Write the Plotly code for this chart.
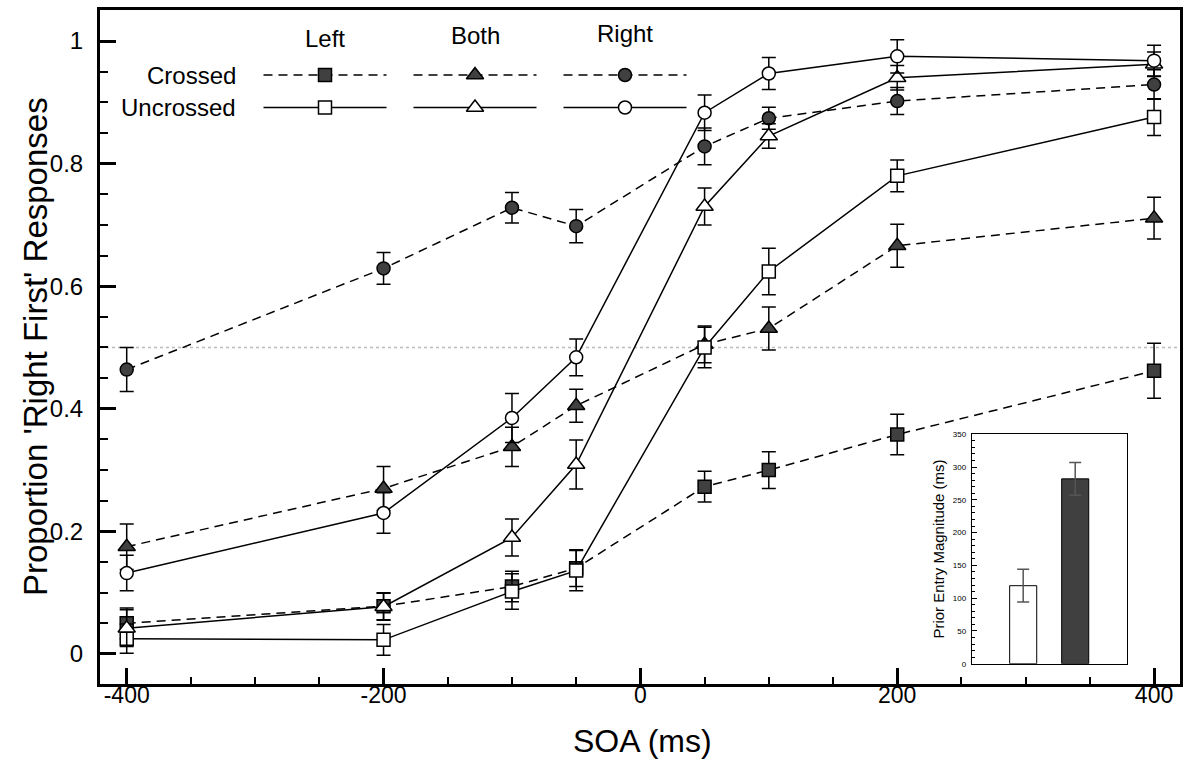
import plotly.graph_objects as go

# ---------------- data ----------------
soa = [-400, -200, -100, -50, 50, 100, 200, 400]

crossed_left = [0.050, 0.078, 0.110, 0.140, 0.273, 0.300, 0.358, 0.462]
crossed_left_err = [0.025, 0.022, 0.025, 0.030, 0.025, 0.030, 0.033, 0.045]
crossed_both = [0.175, 0.270, 0.338, 0.405, 0.505, 0.531, 0.666, 0.711]
crossed_both_err = [0.037, 0.036, 0.032, 0.027, 0.030, 0.035, 0.035, 0.034]
crossed_right = [0.464, 0.629, 0.728, 0.698, 0.828, 0.874, 0.902, 0.929]
crossed_right_err = [0.036, 0.026, 0.025, 0.027, 0.030, 0.018, 0.022, 0.024]

uncrossed_left = [0.025, 0.023, 0.102, 0.136, 0.500, 0.624, 0.780, 0.876]
uncrossed_left_err = [0.024, 0.025, 0.029, 0.033, 0.033, 0.038, 0.026, 0.030]
uncrossed_both = [0.042, 0.077, 0.190, 0.309, 0.730, 0.845, 0.940, 0.962]
uncrossed_both_err = [0.030, 0.022, 0.030, 0.040, 0.030, 0.020, 0.020, 0.020]
uncrossed_right = [0.132, 0.230, 0.385, 0.484, 0.883, 0.947, 0.975, 0.968]
uncrossed_right_err = [0.029, 0.033, 0.040, 0.030, 0.029, 0.026, 0.027, 0.025]

inset_groups = ["Uncrossed", "Crossed"]
inset_values = [119, 282]
inset_err = [25, 25]

x_ticks = [-400, -200, 0, 200, 400]
y_ticks = [0, 0.2, 0.4, 0.6, 0.8, 1]
y_tick_labels = ["0", "0.2", "0.4", "0.6", "0.8", "1"]
inset_ticks = [0, 50, 100, 150, 200, 250, 300, 350]

legend_cols = ["Left", "Both", "Right"]
legend_rows = ["Crossed", "Uncrossed"]

x_title = "SOA (ms)"
y_title = "Proportion 'Right First' Responses"
inset_title = "Prior Entry Magnitude (ms)"

# ---------------- style ----------------
FONT = "Liberation Sans, Arial, Helvetica, sans-serif"
DARK = "#404040"
DASH = "9px,6px"
MSIZE = 13

W, H = 1192, 769
L, R, T, B = 100, 12, 10, 85
PW, PH = W - L - R, H - T - B


def px_x(px):
    return (px - L) / PW


def px_y(py):
    return (H - B - py) / PH


fig = go.Figure()

# reference line at 0.5
fig.add_shape(type="line", xref="paper", yref="y", x0=0, x1=1, y0=0.5, y1=0.5,
              line=dict(color="#bbbbbb", width=1.5, dash="dot"), layer="below")

series = [
    (crossed_left, crossed_left_err, "square", DARK, DASH),
    (crossed_both, crossed_both_err, "triangle-up", DARK, DASH),
    (crossed_right, crossed_right_err, "circle", DARK, DASH),
    (uncrossed_left, uncrossed_left_err, "square", "white", "solid"),
    (uncrossed_both, uncrossed_both_err, "triangle-up", "white", "solid"),
    (uncrossed_right, uncrossed_right_err, "circle", "white", "solid"),
]

for vals, errs, sym, fill, dash in series:
    size = MSIZE + 2 if sym == "triangle-up" else MSIZE
    fig.add_trace(go.Scatter(
        x=soa, y=vals, mode="lines+markers",
        line=dict(color="black", width=1.5, dash=dash),
        marker=dict(symbol=sym, size=size, color=fill, line=dict(color="black", width=1.5)),
        error_y=dict(type="data", array=errs, visible=True, color="black", thickness=1.5, width=7),
        showlegend=False, xaxis="x", yaxis="y", cliponaxis=False,
    ))

# ---------------- legend (drawn on an overlay axis in plot fractions) ----------------
col_px = [325, 475, 625]
row_py = [75, 107.5]
head_py = [38, 35, 33]
half = 61.5
syms = ["square", "triangle-up", "circle"]
fills = [DARK, "white"]
dashes = [DASH, "solid"]

for ri, rname in enumerate(legend_rows):
    for ci, cname in enumerate(legend_cols):
        xc = px_x(col_px[ci])
        hw = half / PW
        yc = px_y(row_py[ri])
        fig.add_trace(go.Scatter(
            x=[xc - hw, xc + hw], y=[yc, yc], mode="lines",
            line=dict(color="black", width=1.5, dash=dashes[ri]),
            showlegend=False, xaxis="x3", yaxis="y3", hoverinfo="skip"))
        size = MSIZE + 2 if syms[ci] == "triangle-up" else MSIZE
        fig.add_trace(go.Scatter(
            x=[xc], y=[yc], mode="markers",
            marker=dict(symbol=syms[ci], size=size, color=fills[ri], line=dict(color="black", width=1.5)),
            showlegend=False, xaxis="x3", yaxis="y3", hoverinfo="skip"))
    fig.add_annotation(x=px_x(238), y=px_y(row_py[ri]), xref="x3", yref="y3",
                       text=rname, showarrow=False, xanchor="right", yanchor="middle",
                       font=dict(family=FONT, size=24, color="black"))

for ci, cname in enumerate(legend_cols):
    fig.add_annotation(x=px_x(col_px[ci]), y=px_y(head_py[ci]), xref="x3", yref="y3",
                       text=cname, showarrow=False, xanchor="center", yanchor="middle",
                       font=dict(family=FONT, size=24, color="black"))

# axis titles
fig.add_annotation(x=px_x(35), y=0.5, xref="paper", yref="paper", text=y_title,
                   textangle=-90, showarrow=False, xanchor="center", yanchor="middle",
                   font=dict(family=FONT, size=33, color="black"))
fig.add_annotation(x=px_x(642), y=px_y(741), xref="paper", yref="paper", text=x_title,
                   showarrow=False, xanchor="center", yanchor="middle",
                   font=dict(family=FONT, size=32, color="black"))

# ---------------- inset bar chart ----------------
fig.add_trace(go.Bar(
    x=[0, 1], y=inset_values, width=0.52,
    marker=dict(color=["white", DARK], line=dict(color="black", width=1)),
    error_y=dict(type="data", array=inset_err, visible=True, color="#555555", thickness=1.5, width=6),
    showlegend=False, xaxis="x2", yaxis="y2", hovertext=inset_groups,
))

ix0, ix1 = px_x(971.7), px_x(1126.7)
iy0, iy1 = px_y(663.7), px_y(434.3)

fig.update_layout(
    width=W, height=H,
    margin=dict(l=L, r=R, t=T, b=B, autoexpand=False),
    paper_bgcolor="white", plot_bgcolor="white",
    font=dict(family=FONT, color="black"),
    xaxis=dict(
        domain=[0, 1], range=[-420.8, 420.2],
        tickmode="array", tickvals=x_ticks, ticktext=[str(v) for v in x_ticks],
        ticks="inside", ticklen=16, tickwidth=3, tickcolor="black",
        minor=dict(dtick=50, tick0=-400, ticks="inside", ticklen=7, tickwidth=2, tickcolor="black"),
        showline=True, linewidth=3, linecolor="black", mirror=True,
        showgrid=False, zeroline=False,
        tickfont=dict(size=23), ticklabelstandoff=-12,
    ),
    yaxis=dict(
        domain=[0, 1], range=[-0.0490, 1.0506],
        tickmode="array", tickvals=y_ticks, ticktext=y_tick_labels,
        ticks="inside", ticklen=16, tickwidth=3, tickcolor="black",
        minor=dict(dtick=0.05, tick0=0, ticks="inside", ticklen=8, tickwidth=2, tickcolor="black"),
        showline=True, linewidth=3, linecolor="black", mirror=True,
        showgrid=False, zeroline=False,
        tickfont=dict(size=24), ticklabelstandoff=9,
    ),
    xaxis2=dict(
        domain=[ix0, ix1], anchor="y2", range=[-0.99, 1.99],
        showticklabels=False, ticks="", showgrid=False, zeroline=False,
        showline=True, linewidth=1, linecolor="black", mirror=True,
    ),
    yaxis2=dict(
        domain=[iy0, iy1], anchor="x2", range=[0, 350],
        tickmode="array", tickvals=inset_ticks,
        ticks="inside", ticklen=5, tickwidth=1, tickcolor="black",
        minor=dict(dtick=10, tick0=0, ticks="inside", ticklen=3, tickwidth=1, tickcolor="black"),
        showline=True, linewidth=1, linecolor="black", mirror=True,
        showgrid=False, zeroline=False,
        tickfont=dict(size=8, color="black"), ticklabelstandoff=3,
        title=dict(text=inset_title, font=dict(size=15), standoff=4),
    ),
    xaxis3=dict(domain=[0, 1], range=[0, 1], anchor="y3", overlaying="x", visible=False, fixedrange=True),
    yaxis3=dict(domain=[0, 1], range=[0, 1], anchor="x3", overlaying="y", visible=False, fixedrange=True),
)

fig.write_html("out.html", config={"displayModeBar": False},
               post_script="document.body.style.margin='0';document.body.style.padding='0';")
